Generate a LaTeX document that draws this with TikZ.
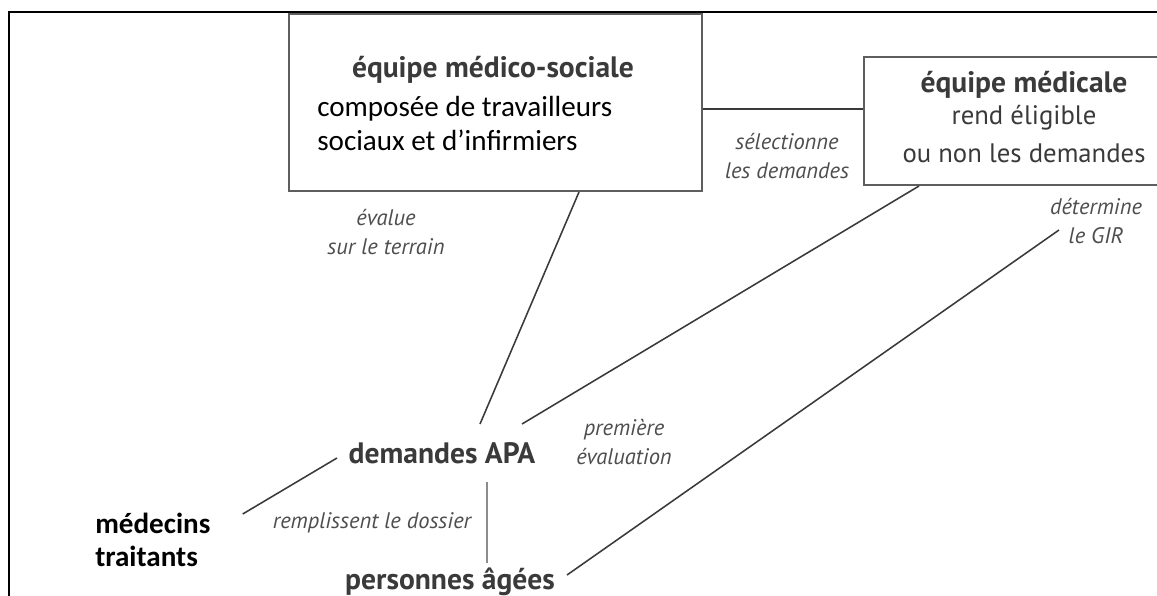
\documentclass[tikz,border=0pt]{standalone}
\usepackage{fontspec}
\setmainfont{PT Sans}
\newfontfamily\calibri{Carlito}
\usetikzlibrary{calc}
\definecolor{boxgrey}{HTML}{5E5E5E}
\definecolor{linegrey}{HTML}{3A3A3A}
\definecolor{textgrey}{HTML}{3A3A3A}
\definecolor{labelgrey}{HTML}{4E4E4E}
\definecolor{stemgrey}{HTML}{8C8C8C}
\tikzset{
  box/.style={draw=boxgrey, line width=1.4pt, inner sep=0pt},
  keyword/.style={font=\bfseries\fontsize{21}{24}\selectfont, text=textgrey, inner sep=0pt},
  plain/.style={font=\fontsize{19}{24}\selectfont, text=textgrey, inner sep=0pt},
  verb/.style={font=\itshape\fontsize{16}{20}\selectfont, text=labelgrey, align=center, inner sep=0pt},
  cal/.style={font=\calibri\fontsize{20.7}{23.5}\selectfont, align=left, inner sep=0pt},
  link/.style={draw=linegrey, line width=1.1pt},
  stem/.style={draw=stemgrey, line width=2pt},
}
\begin{document}
\begin{tikzpicture}[x=0.025cm, y=-0.025cm]
\useasboundingbox (0,0) rectangle (1157,596);
\fill[white] (0,0) rectangle (1157,596);
% frame
\draw[line width=1.6pt] (1160,12) -- (9,12) -- (9,600);

% boxes
\node[box, minimum width=10.325cm, minimum height=4.425cm] (ems) at (495.5,102.5) {};
\node[box, minimum width=7.4cm, minimum height=3.2cm] (em) at (1012,121) {};
\draw[link] ($(ems.east)+(0,6.5)$) -- ($(em.west)+(0,-12)$);

\node[keyword] (emstitle) at (493,70) {équipe médico-sociale};
\node[cal, anchor=west] (emstext) at (317,123.5) {composée de travailleurs\\sociaux et d’infirmiers};
\node[keyword] (emtitle) at (1024,85) {équipe médicale};
\node[plain] (emtext1) at (1024,118) {rend éligible};
\node[plain] (emtext2) at (1024,153) {ou non les demandes};

% verbs
\node[verb] (select) at (787,156) {sélectionne\\les demandes};
\node[verb] (evalue) at (386,232) {évalue\\sur le terrain};
\node[verb] (gir) at (1096,221) {détermine\\le GIR};
\node[verb] (first) at (624,442) {première\\évaluation};
\node[verb] (fill) at (372,523) {remplissent le dossier};

% actors
\node[keyword] (apa) at (442,453) {demandes APA};
\node[keyword] (elderly) at (450,582) {personnes âgées};
\node[cal, font=\calibri\bfseries\fontsize{20.7}{24}\selectfont, anchor=west] (gp) at (95,540) {médecins\\traitants};

% links
\draw[link] ($(ems.south)+(83.5,0)$) -- ($(apa.center)+(38,-29)$);
\draw[link] ($(em.south)+(-93,0)$) -- ($(apa.center)+(80,-29)$);
\draw[link] ($(gir.center)+(-37,9)$) -- ($(elderly.center)+(117,-7)$);
\draw[link] ($(gp.east)+(32,-26)$) -- ($(apa.center)+(-105,5)$);
\draw[stem] ($(apa.center)+(45,29)$) -- ($(elderly.center)+(37,-19)$);
\end{tikzpicture}
\end{document}
